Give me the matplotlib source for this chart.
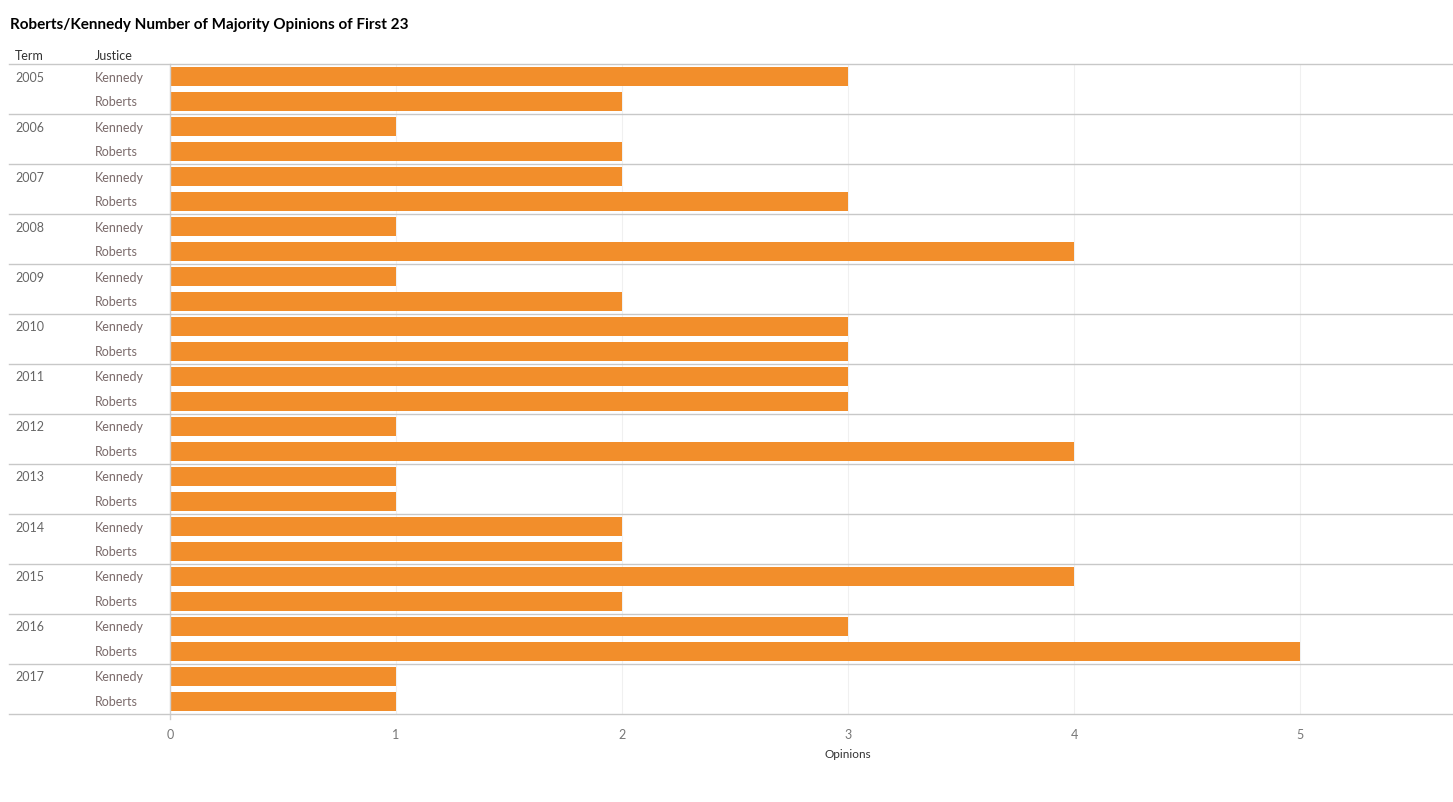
import matplotlib
matplotlib.use('Agg')
import numpy as np
import matplotlib.pyplot as plt
import matplotlib.transforms as mtransforms

plt.rcParams['font.family'] = ['Lato', 'DejaVu Sans']

terms = [2005, 2006, 2007, 2008, 2009, 2010, 2011, 2012, 2013, 2014, 2015, 2016, 2017]
justices = ['Kennedy', 'Roberts']
kennedy = [3, 1, 2, 1, 1, 3, 3, 1, 1, 2, 4, 3, 1]
roberts = [2, 2, 3, 4, 2, 3, 3, 4, 1, 2, 2, 5, 1]

W, H = 1453, 803
fig = plt.figure(figsize=(W / 100, H / 100), dpi=100)
left, right, top, bottom = 170, 1453, 65, 715
ax = fig.add_axes([left / W, 1 - bottom / H, (right - left) / W, (bottom - top) / H])

orange = '#F28E2B'
nrows = len(terms) * 2
pos_k = np.arange(len(terms)) * 2 + 0.5
pos_r = pos_k + 1
ax.barh(pos_k, kennedy, height=0.76, color=orange, zorder=3)
ax.barh(pos_r, roberts, height=0.76, color=orange, zorder=3)

ax.set_ylim(nrows, 0)
ax.set_xlim(0, (right - left) / 226)
ax.set_yticks([])
ax.set_xticks(range(6))
ax.tick_params(axis='x', length=0, pad=10, labelsize=9, labelcolor='#777777')
for s in ax.spines.values():
    s.set_visible(False)
for x in range(1, 6):
    ax.axvline(x, color='#f0f0f0', lw=0.8, zorder=1)
ax.axvline(0, color='#d0d0d0', lw=1, zorder=4, ymin=-0.008, clip_on=False)

x0 = (9 - left) / (right - left)
for i in range(len(terms) + 1):
    ax.axhline(i * 2, xmin=x0, xmax=1, color='#c8c8c8', lw=1, clip_on=False, zorder=5)

trans = mtransforms.blended_transform_factory(ax.transAxes, ax.transData)
xt = (15 - left) / (right - left)
xj = (95 - left) / (right - left)
for i, t in enumerate(terms):
    ax.text(xt, pos_k[i], str(t), transform=trans, ha='left', va='center',
            fontsize=9, color='#666666')
    ax.text(xj, pos_k[i], justices[0], transform=trans, ha='left', va='center',
            fontsize=9, color='#7a6a6a')
    ax.text(xj, pos_r[i], justices[1], transform=trans, ha='left', va='center',
            fontsize=9, color='#7a6a6a')

fig.text(15 / W, 1 - 56 / H, 'Term', ha='left', va='center', fontsize=9, color='#333333')
fig.text(95 / W, 1 - 56 / H, 'Justice', ha='left', va='center', fontsize=9, color='#333333')
fig.text(10 / W, 1 - 25 / H, 'Roberts/Kennedy Number of Majority Opinions of First 23',
         ha='left', va='center', fontsize=11, fontweight='bold', color='#000000')
fig.text(848 / W, 1 - 755 / H, 'Opinions', ha='center', va='center',
         fontsize=8.5, color='#333333')

fig.savefig('out.png', dpi=100)
